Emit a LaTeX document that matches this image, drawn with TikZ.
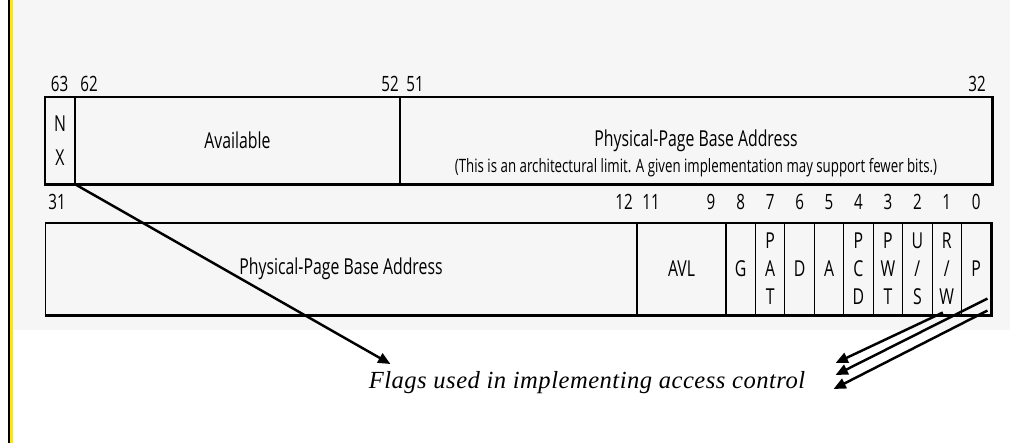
\documentclass[tikz,border=0pt]{standalone}
\usepackage{fontspec}
\usetikzlibrary{arrows.meta,positioning,calc}
\newfontfamily\condfont[FakeStretch=0.72]{Open Sans}
\newfontfamily\capfont[LetterSpace=2]{Liberation Serif}
\definecolor{pagegray}{RGB}{246,246,246}
\definecolor{baryellow}{RGB}{255,232,0}

\begin{document}
\begin{tikzpicture}[x=0.02cm,y=-0.02cm,
  field/.style={draw,line width=0.6pt,inner sep=0pt,align=center,
    font=\condfont\fontsize{12.5}{16}\selectfont},
  bitno/.style={font=\condfont\fontsize{12}{12}\selectfont,inner sep=0pt},
  rim/.style={line width=2pt},
  flagarrow/.style={line width=1.4pt,-{Triangle[length=7pt,width=6pt]}}]
  %% page and margin bar
  \useasboundingbox (0,0) rectangle (1010,443);
  \fill[white] (0,0) rectangle (1010,443);
  \fill[pagegray] (12,0) rectangle (1010,330);
  \fill[black] (8,0) rectangle (9.5,443);
  \fill[baryellow] (9.5,0) rectangle (12.5,443);
  %% upper word, bits 63-32
  \node[field,minimum width=0.6cm,minimum height=1.74cm,
    font=\condfont\fontsize{12.5}{19}\selectfont] (nx) at (60,140.5) {N\\X};
  \node[field,minimum width=6.5cm,minimum height=1.74cm] (avail) at (237.5,140.5) {Available};
  \node[field,minimum width=11.84cm,minimum height=1.74cm,
    label={[font=\condfont\fontsize{10.5}{12}\selectfont,yshift=-0.55cm]center:{(This is an architectural limit. A given implementation may support fewer bits.)}}]
    (ppbahi) at (696,140.5) {Physical-Page Base Address};
  \draw[rim] (nx.south west) -- (ppbahi.south east) -- (ppbahi.north east);
  \node[bitno] (bit63) at (59.5,84) {63};
  \node[bitno] (bit62) at (89,84) {62};
  \node[bitno] (bit52) at (390,84) {52};
  \node[bitno] (bit51) at (415,84) {51};
  \node[bitno] (bit32) at (977,84) {32};
  %% lower word, bits 31-0
  \node[field,minimum width=11.84cm,minimum height=1.84cm] (ppbalo) at (341,269) {Physical-Page Base Address};
  \node[field,minimum width=1.78cm,minimum height=1.84cm] (avl) at (681.5,269) {AVL};
  \foreach \nm/\txt [count=\i from 0] in {g/G,pat/{P\\A\\T},d/D,a/A,pcd/{P\\C\\D},
      pwt/{P\\W\\T},us/{U\\/\\S},rw/{R\\/\\W},p/P} {
    \pgfmathtruncatemacro\bit{8-\i}
    \node[field,minimum width=0.589cm,minimum height=1.84cm] (\nm) at (740.7+29.44*\i,269) {\txt};
    \node[bitno] (bit\bit) at (740.7+29.44*\i,202) {\bit};
  }
  \draw[rim] (ppbalo.south west) -- (p.south east) -- (p.north east);
  \node[bitno] (bit31) at (57,202) {31};
  \node[bitno] (bit12) at (624,202) {12};
  \node[bitno] (bit11) at (651,202) {11};
  \node[bitno] (bit9) at (711,202) {9};
  %% caption and arrows
  \node[font=\capfont\itshape\fontsize{14}{16}\selectfont,inner sep=0pt] (flags) at (587,383)
    {Flags used in implementing access control};
  \draw[flagarrow] (nx.south east) -- ([shift={(22,-19)}]flags.west);
  \draw[flagarrow] ([shift={(-4,-3)}]rw.south) -- ([shift={(30,-20)}]flags.east);
  \draw[flagarrow] ([shift={(-4,-17)}]p.south east) -- ([shift={(30,-8)}]flags.east);
  \draw[flagarrow] ([shift={(-4,-5)}]p.south east) -- ([shift={(28,6)}]flags.east);
\end{tikzpicture}
\end{document}
